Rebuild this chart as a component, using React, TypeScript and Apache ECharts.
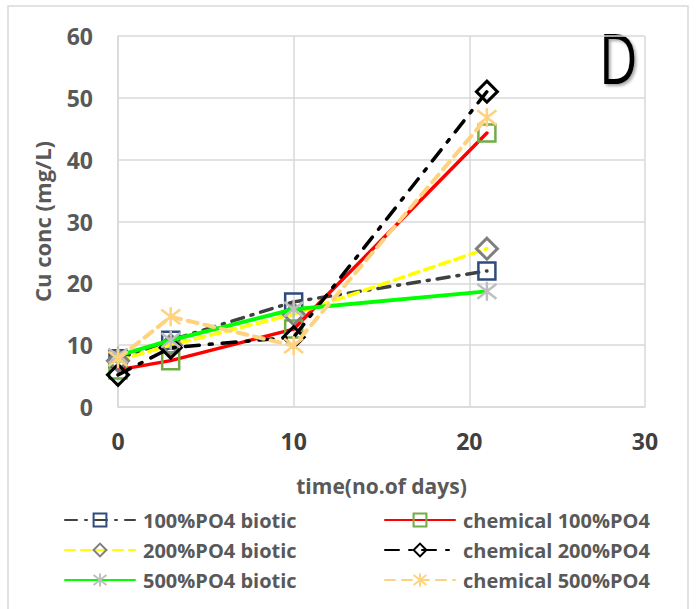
import React, { useEffect, useRef } from "react";
import * as echarts from "echarts";

const days = [0, 3, 10, 21];
const biotic100 = [7.8, 10.8, 17, 22];
const chem100 = [6, 7.5, 12.6, 44.3];
const biotic200 = [7.5, 10, 15, 25.6];
const chem200 = [5.2, 9.6, 11.3, 51];
const biotic500 = [8.3, 10.8, 15.8, 18.7];
const chem500 = [7.8, 14.6, 9.9, 46.8];

const seriesNames = [
  "100%PO4 biotic",
  "chemical 100%PO4",
  "200%PO4 biotic",
  "chemical 200%PO4",
  "500%PO4 biotic",
  "chemical 500%PO4",
];
const leftLegend = ["100%PO4 biotic", "200%PO4 biotic", "500%PO4 biotic"];
const rightLegend = ["chemical 100%PO4", "chemical 200%PO4", "chemical 500%PO4"];
const xTicks = [0, 10, 20, 30];
const yTicks = [0, 10, 20, 30, 40, 50, 60];

const ASTERISK = "path://M0,0L10,10M10,0L0,10M5,-1.5L5,11.5";
const FONT = '"Open Sans", sans-serif';

function pairs(vals: number[]) {
  return days.map((d, i) => [d, vals[i]]);
}

export default function App() {
  const ref = useRef<HTMLDivElement>(null);
  useEffect(() => {
    if (!ref.current) return;
    const chart = echarts.init(ref.current, undefined, { renderer: "svg" });
    const legendText = {
      color: "#595959",
      fontSize: 20,
      fontWeight: "bold" as const,
      fontFamily: FONT,
      lineHeight: 22,
      padding: [0, 0, 0, 3],
    };
    const mk = (
      name: string,
      vals: number[],
      lineColor: string,
      lineType: any,
      lineWidth: number,
      symbol: string,
      symbolSize: number,
      markColor: string,
      markWidth: number,
      z: number
    ) => ({
      name,
      type: "line",
      data: pairs(vals),
      symbol,
      symbolSize,
      showSymbol: true,
      z,
      lineStyle: { color: lineColor, type: lineType, width: lineWidth, cap: "round" },
      itemStyle: {
        color: "rgba(255,255,255,0)",
        borderColor: markColor,
        borderWidth: markWidth,
      },
      emphasis: { disabled: true },
    });
    chart.setOption({
      animation: false,
      grid: { left: 118, right: 51, top: 36, bottom: 202 },
      xAxis: {
        type: "value",
        min: 0,
        max: 30,
        interval: 10,
        name: "time(no.of days)",
        nameLocation: "middle",
        nameGap: 68,
        nameTextStyle: { color: "#595959", fontSize: 21, fontWeight: "bold", fontFamily: FONT },
        axisLine: { show: true, lineStyle: { color: "#d9d9d9", width: 1.5 } },
        axisTick: { show: false },
        splitLine: { show: true, lineStyle: { color: "#d9d9d9", width: 1.5 } },
        axisLabel: {
          color: "#404040",
          fontSize: 23,
          fontWeight: "bold",
          fontFamily: FONT,
          margin: 22,
          formatter: (v: number) => (xTicks.includes(v) ? String(v) : ""),
        },
      },
      yAxis: {
        type: "value",
        min: 0,
        max: 60,
        interval: 10,
        name: "Cu conc (mg/L)",
        nameLocation: "middle",
        nameGap: 65,
        nameTextStyle: { color: "#595959", fontSize: 22, fontWeight: "bold", fontFamily: FONT },
        axisLine: { show: true, lineStyle: { color: "#d9d9d9", width: 1.5 } },
        axisTick: { show: false },
        splitLine: { show: true, lineStyle: { color: "#d9d9d9", width: 1.5 } },
        axisLabel: {
          color: "#595959",
          fontSize: 23,
          fontWeight: "bold",
          fontFamily: FONT,
          margin: 25,
          formatter: (v: number) => (yTicks.includes(v) ? String(v) : ""),
        },
      },
      legend: [
        {
          data: leftLegend,
          orient: "vertical",
          left: 59,
          top: 504,
          itemWidth: 70,
          itemHeight: 16,
          itemGap: 8,
          textStyle: legendText,
          selectedMode: false,
        },
        {
          data: rightLegend,
          orient: "vertical",
          left: 379,
          top: 504,
          itemWidth: 70,
          itemHeight: 16,
          itemGap: 8,
          textStyle: legendText,
          selectedMode: false,
        },
      ],
      graphic: [
        {
          type: "rect",
          shape: { x: 8, y: 6, width: 680, height: 620 },
          style: { fill: "none", stroke: "#d9d9d9", lineWidth: 1.5 },
          silent: true,
        },
        {
          type: "text",
          x: 599,
          y: 22,
          scaleX: 0.76,
          style: {
            text: "D",
            font: '70px "Open Sans", sans-serif',
            fill: "#000",
            textShadowColor: "rgba(0,0,0,0.35)",
            textShadowBlur: 3,
            textShadowOffsetX: 2,
            textShadowOffsetY: 2,
          },
          silent: true,
        },
      ],
      series: [
        mk(seriesNames[0], biotic100, "#404040", [12, 8, 2, 8], 3.5, "rect", 17, "#2F4B7C", 2.5, 2),
        mk(seriesNames[1], chem100, "#FF0000", "solid", 3.5, "rect", 17, "#70AD47", 2.5, 3),
        mk(seriesNames[2], biotic200, "#FFFF00", [10, 6], 3.5, "diamond", 21, "#7F7F7F", 3, 4),
        mk(seriesNames[3], chem200, "#000000", [14, 10, 3, 10], 3.5, "diamond", 21, "#000000", 3, 5),
        mk(seriesNames[4], biotic500, "#00FF00", "solid", 4, ASTERISK, 19, "#BFBFBF", 2.5, 6),
        mk(seriesNames[5], chem500, "#FFD27F", [10, 7], 4, ASTERISK, 19, "#FFD27F", 2.5, 7),
      ],
    });
    return () => chart.dispose();
  }, []);
  return (
    <div
      ref={ref}
      style={{ position: "absolute", left: 0, top: 0, width: 696, height: 609, background: "#fff" }}
    />
  );
}
